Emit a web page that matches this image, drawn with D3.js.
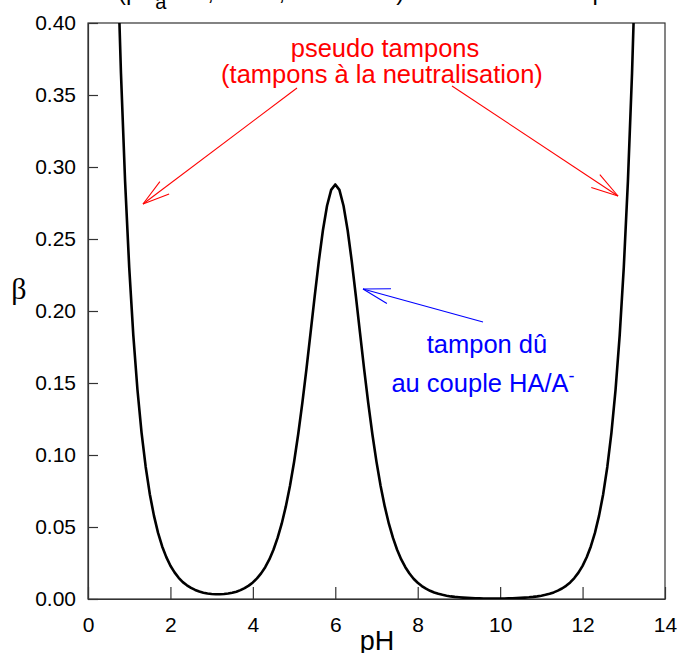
<!DOCTYPE html>
<html><head><meta charset="utf-8">
<script src="https://cdn.jsdelivr.net/npm/d3@7"></script>
<style>body{margin:0;background:#fff;} svg{display:block;font-family:"Liberation Sans",Arial,sans-serif;}</style>
</head><body>
<svg id="c" width="678" height="653"></svg>
<script>
const pH = [0.7,0.8,0.9,1.0,1.1,1.2,1.3,1.4,1.5,1.6,1.7,1.8,1.9,2.0,2.1,2.2,2.3,2.4,2.5,2.6,2.7,2.8,2.9,3.0,3.1,3.2,3.3,3.4,3.5,3.6,3.7,3.8,3.9,4.0,4.1,4.2,4.3,4.4,4.5,4.6,4.7,4.8,4.9,5.0,5.1,5.2,5.3,5.4,5.5,5.6,5.7,5.8,5.9,6.0,6.1,6.2,6.3,6.4,6.5,6.6,6.7,6.8,6.9,7.0,7.1,7.2,7.3,7.4,7.5,7.6,7.7,7.8,7.9,8.0,8.1,8.2,8.3,8.4,8.5,8.6,8.7,8.8,8.9,9.0,9.1,9.2,9.3,9.4,9.5,9.6,9.7,9.8,9.9,10.0,10.1,10.2,10.3,10.4,10.5,10.6,10.7,10.8,10.9,11.0,11.1,11.2,11.3,11.4,11.5,11.6,11.7,11.8,11.9,12.0,12.1,12.2,12.3,12.4,12.5,12.6,12.7,12.8,12.9,13.0,13.1,13.2,13.3];
const beta = [0.4595,0.3650,0.2900,0.2303,0.1829,0.1453,0.1154,0.0917,0.0728,0.0579,0.0459,0.0365,0.0291,0.0231,0.0185,0.0147,0.0117,0.0095,0.0077,0.0063,0.0052,0.00438,0.00381,0.00345,0.00328,0.00325,0.00345,0.00382,0.00433,0.00508,0.00616,0.00757,0.00929,0.0115,0.0143,0.0178,0.0221,0.0275,0.0342,0.0424,0.0523,0.0643,0.0785,0.0952,0.1144,0.1360,0.1597,0.1848,0.2102,0.2345,0.2561,0.2731,0.2841,0.2879,0.2841,0.2731,0.2561,0.2345,0.2102,0.1848,0.1597,0.1360,0.1144,0.0952,0.0785,0.0643,0.0523,0.0424,0.0342,0.0275,0.0221,0.0177,0.0141,0.0113,0.0090,0.0072,0.0057,0.0045,0.0036,0.0029,0.0023,0.0018,0.00145,0.00117,0.00094,0.00077,0.00063,0.00052,0.00043,0.00038,0.00035,0.00033,0.00033,0.00035,0.00038,0.00044,0.00052,0.00063,0.00077,0.00095,0.00117,0.00147,0.00184,0.00230,0.00290,0.00365,0.00459,0.00579,0.00728,0.00917,0.01154,0.01453,0.01829,0.02303,0.0290,0.0365,0.0459,0.0579,0.0728,0.0917,0.1154,0.1453,0.1829,0.2303,0.2900,0.3650,0.4595];
const xTicks = [0,2,4,6,8,10,12,14];
const yTicks = [0,0.05,0.10,0.15,0.20,0.25,0.30,0.35,0.40];
const xLabel = "pH";
const yLabel = "β";
const redLines = ["pseudo tampons","(tampons à la neutralisation)"];
const blueLines = ["tampon dû","au couple HA/A"];

const svg = d3.select("#c");
const L=88,R=665,T=23,B=599;
const x = d3.scaleLinear().domain([0,14]).range([L,R]);
const y = d3.scaleLinear().domain([0,0.4]).range([B,T]);

// title (mostly cut off at the top edge in the reference)
const tt = svg.append("text").attr("x",118).attr("y",-0.5).attr("font-size",24).attr("fill","#000");
tt.append("tspan").text("(pK");
tt.append("tspan").attr("dy",9.5).attr("font-size",20).text("a");
tt.append("tspan").attr("dy",-9.5).text(" = 6, C = 0,5 mol.L-1");
tt.append("tspan").attr("dx",11).text(")");
tt.append("tspan").text(" en fonction du ");
tt.append("tspan").attr("dx",24).text("pH");

svg.append("defs").append("clipPath").attr("id","clip").append("rect")
  .attr("x",L).attr("y",T).attr("width",R-L).attr("height",B-T);

// frame
svg.append("rect").attr("x",L).attr("y",T).attr("width",R-L).attr("height",B-T)
  .attr("fill","none").attr("stroke","#333").attr("stroke-width",1.2);

const gx = svg.append("g").attr("transform",`translate(0,${B})`)
  .call(d3.axisBottom(x).tickValues(xTicks).tickSizeInner(-12).tickSizeOuter(0).tickPadding(18).tickFormat(d3.format("d")));
const gy = svg.append("g").attr("transform",`translate(${L},0)`)
  .call(d3.axisLeft(y).tickValues(yTicks).tickSizeInner(-10).tickSizeOuter(0).tickPadding(12).tickFormat(d3.format(".2f")));
[gx,gy].forEach(g=>{
  g.select(".domain").attr("stroke","#333").attr("stroke-width",1.2);
  g.selectAll(".tick line").attr("stroke","#333").attr("stroke-width",1.2);
  g.selectAll(".tick text").attr("font-size",21).attr("fill","#000").attr("font-family","Liberation Sans, Arial, sans-serif");
});

svg.append("text").attr("x",377).attr("y",650).attr("text-anchor","middle").attr("font-size",27).text(xLabel);
svg.append("text").attr("x",19).attr("y",299).attr("text-anchor","middle").attr("font-size",30)
  .attr("font-family","Liberation Serif, DejaVu Serif, serif").text(yLabel);

const data = pH.map((p,i)=>[p,beta[i]]);
svg.append("path").datum(data).attr("clip-path","url(#clip)")
  .attr("fill","none").attr("stroke","#000").attr("stroke-width",2.6).attr("stroke-linejoin","round")
  .attr("d",d3.line().x(d=>x(d[0])).y(d=>y(d[1])));

function arrow(x1,y1,x2,y2,color){
  svg.append("line").attr("x1",x1).attr("y1",y1).attr("x2",x2).attr("y2",y2).attr("stroke",color).attr("stroke-width",1.1);
  const a=Math.atan2(y1-y2,x1-x2), len=28, h=16*Math.PI/180;
  [a-h,a+h].forEach(b=>{
    svg.append("line").attr("x1",x2).attr("y1",y2).attr("x2",x2+len*Math.cos(b)).attr("y2",y2+len*Math.sin(b))
      .attr("stroke",color).attr("stroke-width",1.1);
  });
}
arrow(297,88,143,204,"#ff0000");
arrow(452,86,618,196,"#ff0000");
arrow(483,322,363,289,"#0000ff");

const fs = 25.5;
svg.append("text").attr("x",385).attr("y",57).attr("text-anchor","middle").attr("font-size",fs).attr("fill","#ff0000").text(redLines[0]);
svg.append("text").attr("x",382).attr("y",83).attr("text-anchor","middle").attr("font-size",fs).attr("fill","#ff0000").text(redLines[1]);
svg.append("text").attr("x",487).attr("y",353).attr("text-anchor","middle").attr("font-size",fs).attr("fill","#0000ff").text(blueLines[0]);
const bt = svg.append("text").attr("x",483).attr("y",392).attr("text-anchor","middle").attr("font-size",fs).attr("fill","#0000ff");
bt.append("tspan").text(blueLines[1]);
bt.append("tspan").attr("dy",-10).attr("font-size",18).text("-");
</script>
</body></html>
